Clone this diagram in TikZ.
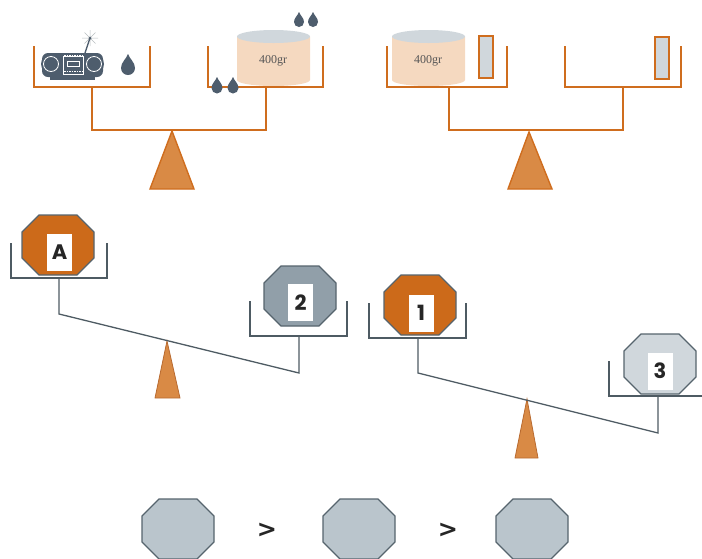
\documentclass[tikz,border=0pt]{standalone}
\usepackage{fontspec}
\newfontfamily\weightfont{Liberation Serif}
\newfontfamily\labelfont{Poppins}
\newfontfamily\signfont{DejaVu Sans}
\begin{document}
\begin{tikzpicture}[x=1pt,y=-1pt,line join=miter,
  panline/.style={draw=scaleorange,line width=2.4pt},
  fulcrum/.style={fill=fulcrumfill,draw=scaleorange,line width=1.4pt},
  grayline/.style={draw=beamgray,line width=1.3pt},
  smallfulcrum/.style={fill=fulcrumfill,draw=fulcrumedge,line width=0.8pt},
  octo/.style={draw=octoedge,line width=1.2pt},
  tag/.style={fill=white,inner sep=0pt,minimum width=25pt,minimum height=37pt,
    font=\labelfont\bfseries\fontsize{21}{21}\selectfont,text=black!85},
  weighttext/.style={font=\weightfont\fontsize{12}{12}\selectfont,text=textgray},
  sign/.style={font=\signfont\bfseries\fontsize{24}{24}\selectfont,text=black!85}]
\definecolor{scaleorange}{HTML}{CF6D1E}
\definecolor{fulcrumfill}{HTML}{D98A45}
\definecolor{fulcrumedge}{HTML}{B86A30}
\definecolor{beamgray}{HTML}{4E5B63}
\definecolor{octoedge}{HTML}{56646D}
\definecolor{dropc}{HTML}{4E5D6D}
\definecolor{cylside}{HTML}{F5D9C0}
\definecolor{cyltop}{HTML}{D0D7DC}
\definecolor{textgray}{HTML}{555555}
\definecolor{octorange}{HTML}{CC6A1A}
\definecolor{octmid}{HTML}{919FA9}
\definecolor{octlight}{HTML}{D0D7DC}
\definecolor{octbottom}{HTML}{BAC5CC}

% drop: centre of round part (#1,#2), radius #3
\newcommand{\waterdrop}[3]{%
  \fill[dropc] (#1,#2-2*#3) .. controls (#1+0.25*#3,#2-1.3*#3) and (#1+#3,#2-0.8*#3) .. (#1+#3,#2)
    arc[start angle=0,end angle=180,radius=#3]
    .. controls (#1-#3,#2-0.8*#3) and (#1-0.25*#3,#2-1.3*#3) .. cycle;}
% octagon: left x #1, top y #2, fill #3 (72 x 60, corners cut by 17)
\newcommand{\octagon}[3]{%
  \draw[octo,fill=#3] (#1+17,#2) -- (#1+55,#2) -- (#1+72,#2+17) -- (#1+72,#2+43)
    -- (#1+55,#2+60) -- (#1+17,#2+60) -- (#1,#2+43) -- (#1,#2+17) -- cycle;}
% cylinder weight: left x #1, right x #2
\newcommand{\cylinder}[2]{%
  \fill[cylside] (#1,36.5) -- (#1,80) arc[start angle=180,end angle=0,x radius=(#2-#1)/2,y radius=6]
    -- (#2,36.5) -- cycle;
  \fill[cyltop] ({(#1+#2)/2},36.5) ellipse[x radius=(#2-#1)/2,y radius=6.5];}

\useasboundingbox (0,0) rectangle (702,558);

% ---------- top left scale ----------
\draw[fulcrum] (172,131) -- (194,189) -- (150,189) -- cycle;
\draw[panline] (92,87) -- (92,130) -- (266,130) -- (266,87);
\cylinder{237}{310}
\node[weighttext] (w400a) at (273,61) {400gr};
\draw[panline] (34,46) -- (34,87) -- (150,87) -- (150,46);
\draw[panline] (208,46) -- (208,87) -- (323,87) -- (323,46);
% radio
\draw[cyltop!70!gray,line width=0.5pt]
  (90,38) -- (90,30) (90,38) -- (90,46) (90,38) -- (82,38) (90,38) -- (98,38)
  (90,38) -- (84.5,32.5) (90,38) -- (95.5,32.5) (90,38) -- (84.5,43.5) (90,38) -- (95.5,43.5);
\draw[dropc,line width=1.4pt] (85,53) -- (90,38);
\fill[dropc] (90,38) circle[radius=1.5];
\fill[dropc,rounded corners=6pt] (42,53) rectangle (103,77);
\fill[dropc] (51,64) circle[radius=10] (94,64) circle[radius=10];
\fill[dropc] (50,74) rectangle (95,80);
\draw[white,line width=0.8pt] (51,64) circle[radius=7.5] (94,64) circle[radius=7.5];
\draw[white,line width=0.8pt] (63,56) rectangle (83,74) (67,61) rectangle (79,66);
\draw[white,line width=0.6pt,dash pattern=on 1.5pt off 1pt] (64,71) -- (82,71) (64,55) -- (82,55);
\waterdrop{128}{68}{7}
\waterdrop{299}{22}{5}
\waterdrop{313}{22}{5}
\waterdrop{217}{88}{5.5}
\waterdrop{233}{88}{5.5}

% ---------- top right scale ----------
\draw[fulcrum] (529,132) -- (552,189) -- (508,189) -- cycle;
\draw[panline] (449,87) -- (449,130) -- (623,130) -- (623,87);
\cylinder{392}{465}
\node[weighttext] (w400b) at (428,61) {400gr};
\draw[panline] (387,46) -- (387,87) -- (507,87) -- (507,46);
\draw[panline] (565,46) -- (565,87) -- (681,87) -- (681,46);
\draw[draw=scaleorange,line width=1.4pt,fill=cyltop] (479,36) rectangle (493,78);
\draw[draw=scaleorange,line width=1.4pt,fill=cyltop] (655,37) rectangle (669,79);

% ---------- middle left scale ----------
\draw[smallfulcrum] (167,341) -- (180,398) -- (155,398) -- cycle;
\draw[grayline] (59,278) -- (59,314) -- (299,373) -- (299,336);
\draw[grayline] (11,243) -- (11,278) -- (107,278) -- (107,243);
\draw[grayline] (250,301) -- (250,336) -- (347,336) -- (347,301);
\octagon{22}{215}{octorange}
\node[tag] (tagA) at (59.5,252) {A};
\octagon{264}{266}{octmid}
\node[tag] (tag2) at (300.5,302.5) {2};

% ---------- middle right scale ----------
\draw[smallfulcrum] (527,399) -- (538,458) -- (515,458) -- cycle;
\draw[grayline] (418,338) -- (418,373) -- (658,433) -- (658,396);
\draw[grayline] (369,303) -- (369,338) -- (466,338) -- (466,303);
\draw[grayline] (609,361) -- (609,396) -- (705,396);
\octagon{384}{275}{octorange}
\node[tag] (tag1) at (421,313) {1};
\octagon{624}{334}{octlight}
\node[tag] (tag3) at (660,371) {3};

% ---------- bottom ordering ----------
\octagon{142}{499}{octbottom}
\node[sign] (gt1) at (267,530) {>};
\octagon{323}{499}{octbottom}
\node[sign] (gt2) at (448,530) {>};
\octagon{496}{499}{octbottom}
\end{tikzpicture}
\end{document}
